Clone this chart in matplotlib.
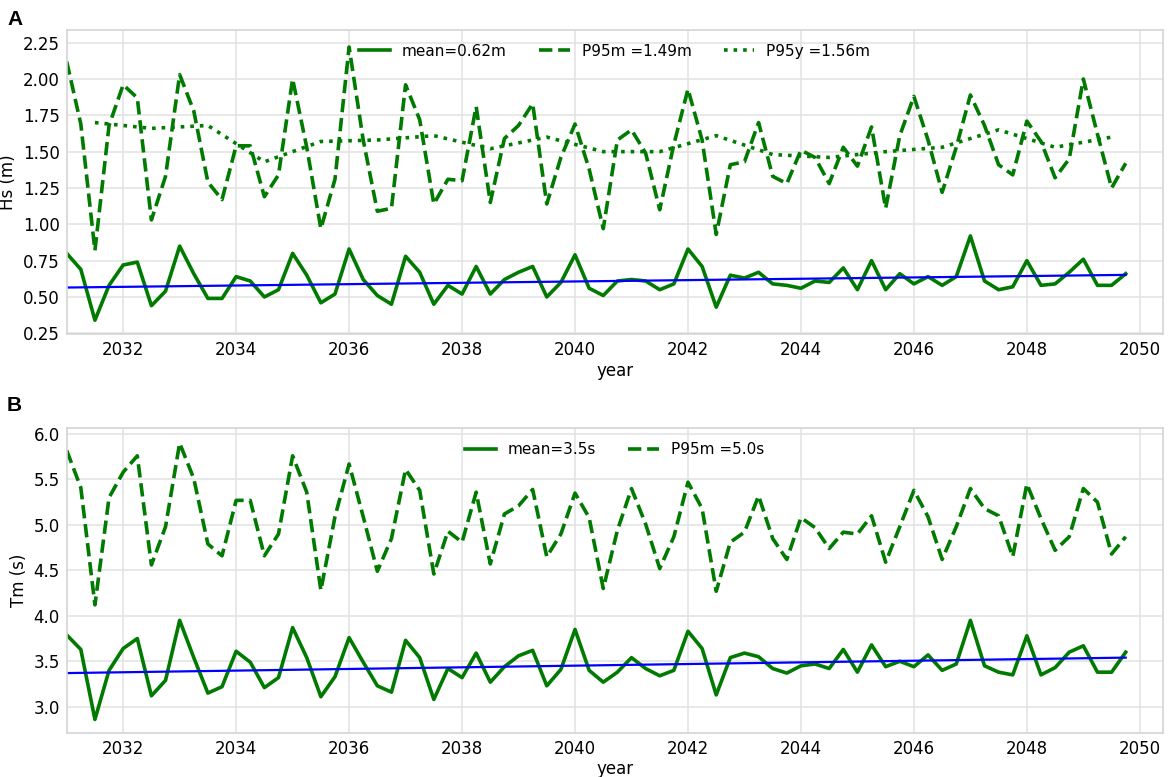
import numpy as np
import matplotlib
matplotlib.use("Agg")
import matplotlib.pyplot as plt

# ---------------- data ----------------
start_year = 2031
n_quarters = 76
t_q = start_year + np.arange(n_quarters) / 4.0          # quarterly time stamps
t_y = start_year + 0.5 + np.arange(19)                   # yearly (mid-year) time stamps

hs_mean = [0.80, 0.69, 0.34, 0.58, 0.72, 0.74, 0.44, 0.54,
           0.85, 0.66, 0.49, 0.49, 0.64, 0.61, 0.50, 0.55,
           0.80, 0.65, 0.46, 0.52, 0.83, 0.62, 0.51, 0.45,
           0.78, 0.67, 0.45, 0.58, 0.52, 0.71, 0.52, 0.62,
           0.67, 0.71, 0.50, 0.60, 0.79, 0.56, 0.51, 0.61,
           0.62, 0.61, 0.55, 0.59, 0.83, 0.71, 0.43, 0.65,
           0.63, 0.67, 0.59, 0.58, 0.56, 0.61, 0.60, 0.70,
           0.55, 0.75, 0.55, 0.66, 0.59, 0.64, 0.58, 0.64,
           0.92, 0.61, 0.55, 0.57, 0.75, 0.58, 0.59, 0.67,
           0.76, 0.58, 0.58, 0.66]
hs_p95m = [2.12, 1.69, 0.82, 1.68, 1.96, 1.87, 1.03, 1.33,
           2.03, 1.78, 1.29, 1.17, 1.54, 1.54, 1.19, 1.34,
           2.00, 1.53, 0.97, 1.31, 2.22, 1.58, 1.09, 1.11,
           1.96, 1.72, 1.14, 1.31, 1.30, 1.81, 1.15, 1.59,
           1.68, 1.83, 1.14, 1.46, 1.69, 1.38, 0.97, 1.58,
           1.65, 1.49, 1.10, 1.55, 1.93, 1.58, 0.93, 1.41,
           1.43, 1.70, 1.33, 1.28, 1.51, 1.46, 1.28, 1.53,
           1.40, 1.67, 1.11, 1.61, 1.88, 1.58, 1.22, 1.53,
           1.89, 1.68, 1.41, 1.34, 1.71, 1.57, 1.32, 1.45,
           2.00, 1.62, 1.25, 1.42]
hs_p95y = [1.70, 1.66, 1.68, 1.43, 1.57, 1.58, 1.61, 1.52, 1.60, 1.50,
           1.50, 1.61, 1.48, 1.46, 1.50, 1.53, 1.65, 1.53, 1.60]
hs_trend = [0.565, 0.652]

tm_mean = [3.79, 3.63, 2.86, 3.40, 3.64, 3.75, 3.12, 3.29,
           3.95, 3.54, 3.15, 3.22, 3.61, 3.49, 3.21, 3.32,
           3.87, 3.54, 3.11, 3.33, 3.76, 3.49, 3.23, 3.16,
           3.73, 3.54, 3.08, 3.42, 3.32, 3.59, 3.27, 3.44,
           3.56, 3.62, 3.23, 3.41, 3.85, 3.40, 3.27, 3.38,
           3.54, 3.42, 3.34, 3.40, 3.83, 3.64, 3.13, 3.54,
           3.59, 3.55, 3.42, 3.37, 3.45, 3.47, 3.42, 3.63,
           3.38, 3.68, 3.44, 3.50, 3.44, 3.57, 3.40, 3.47,
           3.95, 3.45, 3.38, 3.35, 3.78, 3.35, 3.43, 3.60,
           3.67, 3.38, 3.38, 3.60]
tm_p95m = [5.82, 5.41, 4.12, 5.30, 5.58, 5.76, 4.56, 4.98,
           5.90, 5.51, 4.79, 4.66, 5.27, 5.27, 4.66, 4.90,
           5.76, 5.36, 4.28, 5.09, 5.67, 5.09, 4.49, 4.85,
           5.61, 5.38, 4.46, 4.93, 4.81, 5.36, 4.57, 5.12,
           5.21, 5.39, 4.65, 4.90, 5.35, 5.08, 4.30, 4.94,
           5.40, 5.01, 4.52, 4.87, 5.47, 5.18, 4.27, 4.81,
           4.92, 5.32, 4.85, 4.62, 5.08, 4.97, 4.74, 4.92,
           4.90, 5.10, 4.59, 4.98, 5.38, 5.09, 4.62, 4.98,
           5.40, 5.18, 5.10, 4.65, 5.45, 5.07, 4.72, 4.87,
           5.40, 5.25, 4.68, 4.87]
tm_trend = [3.37, 3.54]

labels_a = ["mean=0.62m", "P95m =1.49m", "P95y =1.56m"]
labels_b = ["mean=3.5s", "P95m =5.0s"]
xticks = [2032, 2034, 2036, 2038, 2040, 2042, 2044, 2046, 2048, 2050]

# ---------------- figure ----------------
GREEN = "#007a00"
LW = 2.6
fig = plt.figure(figsize=(11.7, 7.77), dpi=100)
axA = fig.add_axes([0.057, 0.5701, 0.937, 0.3913])
axB = fig.add_axes([0.057, 0.057, 0.937, 0.3918])

def style(ax):
    ax.set_facecolor("white")
    for s in ax.spines.values():
        s.set_color("#d4d4d4")
        s.set_linewidth(1.2)
    ax.grid(True, color="#e2e2e2", linewidth=1.1)
    ax.set_axisbelow(True)
    ax.tick_params(length=0, labelsize=12, pad=5)
    ax.set_xticks(xticks)
    ax.set_xlim(2031.0, 2050.41)
    ax.set_xlabel("year", fontsize=12, labelpad=2)

t_trend = [t_q[0], t_q[-1]]

# Panel A
style(axA)
axA.plot(t_q, hs_mean, color=GREEN, lw=LW, label=labels_a[0])
axA.plot(t_q, hs_p95m, color=GREEN, lw=LW, ls="--", label=labels_a[1])
axA.plot(t_y, hs_p95y, color=GREEN, lw=LW, ls=":", label=labels_a[2])
axA.plot(t_trend, hs_trend, color="blue", lw=1.6)
axA.set_ylim(0.245, 2.337)
axA.set_yticks([0.25, 0.5, 0.75, 1.0, 1.25, 1.5, 1.75, 2.0, 2.25])
axA.set_ylabel("Hs (m)", fontsize=12)
axA.legend(loc="upper center", ncol=3, frameon=False, fontsize=11,
           handlelength=2.0, columnspacing=2.1, bbox_to_anchor=(0.5, 1.0))

# Panel B
style(axB)
axB.plot(t_q, tm_mean, color=GREEN, lw=LW, label=labels_b[0])
axB.plot(t_q, tm_p95m, color=GREEN, lw=LW, ls="--", label=labels_b[1])
axB.plot(t_trend, tm_trend, color="blue", lw=1.6)
axB.set_ylim(2.714, 6.063)
axB.set_yticks([3.0, 3.5, 4.0, 4.5, 5.0, 5.5, 6.0])
axB.set_ylabel("Tm (s)", fontsize=12)
axB.legend(loc="upper center", ncol=2, frameon=False, fontsize=11,
           handlelength=2.0, columnspacing=2.1, bbox_to_anchor=(0.5, 1.0))

fig.text(0.006, 0.975, "A", fontsize=15, fontweight="bold",
         family=["Liberation Sans", "DejaVu Sans"], va="center")
fig.text(0.006, 0.478, "B", fontsize=15, fontweight="bold",
         family=["Liberation Sans", "DejaVu Sans"], va="center")

fig.savefig("out.png", dpi=100)
